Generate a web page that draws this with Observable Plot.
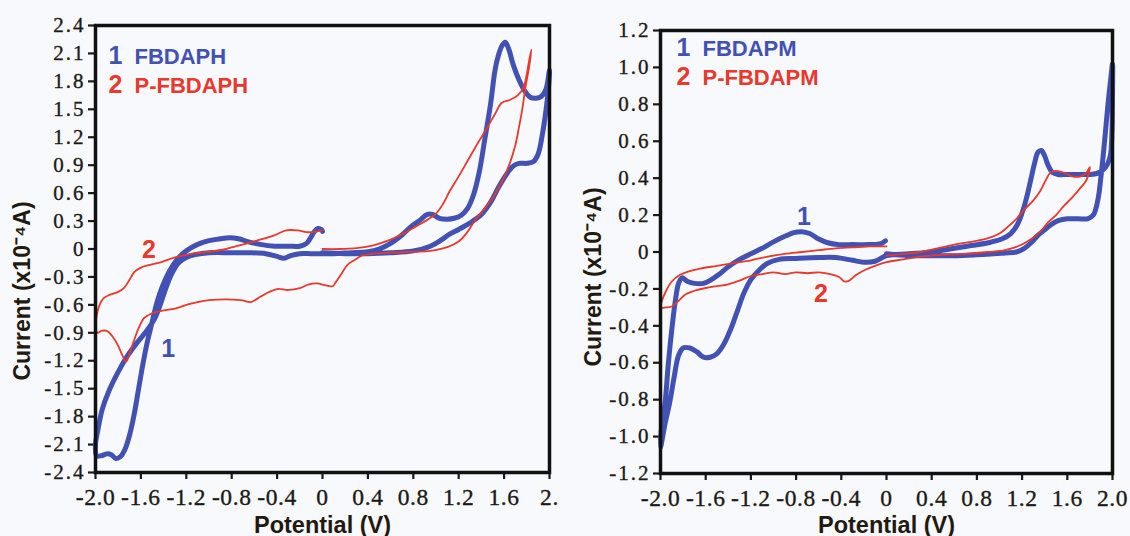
<!DOCTYPE html>
<html>
<head>
<meta charset="utf-8">
<script src="https://cdn.jsdelivr.net/npm/d3@7"></script>
<script src="https://cdn.jsdelivr.net/npm/@observablehq/plot@0.6"></script>
<style>
  html, body { margin: 0; padding: 0; background: #f8f9fd; }
  #wrap { display: flex; width: 1130px; height: 536px; }
  #wrap svg { display: block; }
  svg g[aria-label="y-axis tick label"] text {
    font-family: "Liberation Serif", "Times New Roman", serif;
    font-size: 21px; letter-spacing: 2px; fill: #1c1a16;
    stroke: #1c1a16; stroke-width: 0.35px;
  }
  svg g[aria-label="x-axis tick label"] text {
    font-family: "Liberation Serif", "Times New Roman", serif;
    font-size: 23.5px; letter-spacing: 0.6px; fill: #1c1a16;
    stroke: #1c1a16; stroke-width: 0.35px;
  }
  svg g[aria-label="legend name"] text { letter-spacing: 1.5px; }
  svg g[aria-label="axis title"] text { letter-spacing: 0.4px; }
</style>
</head>
<body>
<div id="wrap"></div>
<script>
// ---- Axis ticks and labels ----
const potentialTicks = [-2.0, -1.6, -1.2, -0.8, -0.4, 0, 0.4, 0.8, 1.2, 1.6, 2.0];
const potentialLabelsLeft = ["-2.0", "-1.6", "-1.2", "-0.8", "-0.4", "0", "0.4", "0.8", "1.2", "1.6", "2."];
const potentialLabelsRight = ["-2.0", "-1.6", "-1.2", "-0.8", "-0.4", "0", "0.4", "0.8", "1.2", "1.6", "2.0"];
const leftCurrentTicks = [2.4, 2.1, 1.8, 1.5, 1.2, 0.9, 0.6, 0.3, 0, -0.3, -0.6, -0.9, -1.2, -1.5, -1.8, -2.1, -2.4];
const leftCurrentLabels = ["2.4", "2.1", "1.8", "1.5", "1.2", "0.9", "0.6", "0.3", "0", "-0.3", "-0.6", "-0.9", "-1.2", "-1.5", "-1.8", "-2.1", "-2.4"];
const rightCurrentTicks = [1.2, 1.0, 0.8, 0.6, 0.4, 0.2, 0, -0.2, -0.4, -0.6, -0.8, -1.0, -1.2];
const rightCurrentLabels = ["1.2", "1.0", "0.8", "0.6", "0.4", "0.2", "0", "-0.2", "-0.4", "-0.6", "-0.8", "-1.0", "-1.2"];

// ---- Cyclic voltammograms: potential (V) and current (x10^-4 A) along the sweep ----
// FBDAPH
const fbdaphPotential = [
  0.0, 0.2, 0.4, 0.6, 0.8, 0.95, 1.05, 1.12, 1.2, 1.3, 1.4, 1.48, 1.55, 1.62, 1.68, 1.73, 1.8, 1.86, 1.9, 1.94, 1.97, 1.99, 2.0,
  1.97, 1.93, 1.88, 1.83, 1.78, 1.73, 1.68, 1.64, 1.61, 1.58, 1.55, 1.52, 1.48, 1.43, 1.38, 1.33, 1.28, 1.22, 1.16, 1.1, 1.03, 0.97, 0.92, 0.86, 0.78, 0.7, 0.6, 0.5, 0.4, 0.25, 0.1, 0.0,
  -0.1, -0.2, -0.28, -0.34, -0.4, -0.5, -0.65, -0.8, -1.0, -1.12, -1.2, -1.27, -1.33, -1.38, -1.43, -1.48, -1.55, -1.63, -1.72, -1.8, -1.88, -1.94, -1.98, -2.0,
  -1.99, -1.95, -1.9, -1.86, -1.82, -1.78, -1.74, -1.7, -1.66, -1.62, -1.58, -1.54, -1.5, -1.46, -1.41, -1.35, -1.28, -1.2, -1.1, -1.0, -0.9, -0.82, -0.74, -0.66, -0.55, -0.42, -0.3, -0.2, -0.14, -0.1, -0.07, -0.04, -0.01, 0.0
];
const fbdaphCurrent = [
  -0.04, -0.05, -0.05, -0.04, -0.02, 0.03, 0.1, 0.16, 0.21, 0.28, 0.37, 0.5, 0.66, 0.8, 0.89, 0.92, 0.92, 0.94, 1.02, 1.25, 1.5, 1.72, 1.92,
  1.72, 1.64, 1.62, 1.63, 1.7, 1.82, 1.98, 2.15, 2.22, 2.18, 2.08, 1.92, 1.55, 1.18, 0.82, 0.58, 0.44, 0.36, 0.33, 0.32, 0.33, 0.37, 0.37, 0.31, 0.24, 0.15, 0.06, 0.0, -0.03, -0.04, -0.05, -0.05,
  -0.05, -0.05, -0.07, -0.1, -0.08, -0.05, -0.04, -0.04, -0.04, -0.06, -0.09, -0.15, -0.27, -0.42, -0.6, -0.75, -0.88, -1.0, -1.15, -1.32, -1.52, -1.72, -1.95, -2.1,
  -2.22, -2.22, -2.2, -2.21, -2.25, -2.23, -2.15, -2.0, -1.78, -1.5, -1.22, -0.98, -0.78, -0.58, -0.4, -0.24, -0.11, -0.02, 0.05, 0.09, 0.11, 0.12, 0.11, 0.08, 0.05, 0.03, 0.03, 0.03, 0.06, 0.13, 0.19, 0.22, 0.21, 0.19
];

// P-FBDAPH
const pFbdaphPotential = [
  0.0, 0.15, 0.3, 0.45, 0.6, 0.72, 0.82, 0.92, 1.0, 1.06, 1.12, 1.2, 1.28, 1.36, 1.44, 1.52, 1.58, 1.65, 1.72, 1.77, 1.8, 1.82, 1.84,
  1.82, 1.79, 1.76, 1.73, 1.7, 1.65, 1.58, 1.5, 1.42, 1.34, 1.27, 1.2, 1.1, 0.95, 0.8, 0.6, 0.45, 0.35, 0.28, 0.22, 0.17, 0.12, 0.09, 0.03, -0.05, -0.12, -0.2, -0.3, -0.4, -0.5, -0.57, -0.63, -0.72, -0.85, -1.0, -1.1, -1.2, -1.3, -1.4, -1.5, -1.57, -1.62, -1.66, -1.7, -1.73, -1.76, -1.8, -1.85, -1.9, -1.95, -1.98, -2.0,
  -1.99, -1.97, -1.93, -1.87, -1.8, -1.75, -1.7, -1.66, -1.6, -1.52, -1.42, -1.3, -1.15, -1.0, -0.85, -0.7, -0.55, -0.42, -0.32, -0.22, -0.12, 0.0
];
const pFbdaphCurrent = [
  0.0, 0.0, 0.01, 0.04, 0.1, 0.17, 0.24, 0.31, 0.38, 0.48, 0.62, 0.78, 0.95, 1.12, 1.28, 1.45, 1.57, 1.6, 1.65, 1.73, 1.88, 2.02, 2.14,
  1.95, 1.75, 1.5, 1.3, 1.12, 0.92, 0.72, 0.55, 0.42, 0.3, 0.17, 0.08, 0.02, -0.02, -0.03, -0.04, -0.05, -0.07, -0.12, -0.17, -0.26, -0.35, -0.4, -0.39, -0.37, -0.38, -0.42, -0.44, -0.43, -0.48, -0.53, -0.57, -0.55, -0.54, -0.55, -0.57, -0.6, -0.64, -0.66, -0.69, -0.74, -0.85, -0.98, -1.12, -1.21, -1.15, -1.04, -0.94, -0.88, -0.88, -0.9, -0.85,
  -0.72, -0.62, -0.53, -0.49, -0.46, -0.42, -0.33, -0.25, -0.2, -0.17, -0.14, -0.09, -0.05, -0.03, 0.0, 0.05, 0.1, 0.15, 0.2, 0.2, 0.18, 0.2
];

// FBDAPM
const fbdapmPotential = [
  0.0, 0.2, 0.4, 0.6, 0.8, 0.95, 1.05, 1.15, 1.22, 1.28, 1.34, 1.4, 1.46, 1.52, 1.6, 1.7, 1.78, 1.83, 1.87, 1.9, 1.93, 1.96, 1.99, 2.0,
  2.0, 1.995, 1.98, 1.94, 1.88, 1.8, 1.7, 1.6, 1.52, 1.47, 1.43, 1.4, 1.37, 1.34, 1.31, 1.28, 1.25, 1.21, 1.16, 1.1, 1.02, 0.9, 0.75, 0.6, 0.4, 0.2, 0.0,
  -0.1, -0.2, -0.3, -0.45, -0.6, -0.8, -0.95, -1.05, -1.13, -1.2, -1.26, -1.32, -1.38, -1.44, -1.5, -1.56, -1.62, -1.68, -1.74, -1.8, -1.84, -1.88, -1.92, -1.96, -2.0,
  -1.99, -1.96, -1.93, -1.9, -1.87, -1.84, -1.81, -1.76, -1.7, -1.62, -1.55, -1.48, -1.4, -1.3, -1.2, -1.1, -1.0, -0.9, -0.82, -0.75, -0.68, -0.6, -0.52, -0.42, -0.3, -0.15, -0.05, -0.01
];
const fbdapmCurrent = [
  -0.01, -0.02, -0.02, -0.02, -0.015, -0.01, -0.005, 0.0, 0.02, 0.05, 0.09, 0.12, 0.15, 0.17, 0.18, 0.18, 0.18, 0.2, 0.28, 0.42, 0.6, 0.8, 0.97, 1.02,
  0.85, 0.65, 0.52, 0.46, 0.43, 0.42, 0.42, 0.42, 0.42, 0.43, 0.47, 0.52, 0.55, 0.54, 0.48, 0.4, 0.32, 0.23, 0.15, 0.1, 0.07, 0.05, 0.035, 0.02, 0.0, -0.01, -0.02,
  -0.05, -0.055, -0.045, -0.03, -0.03, -0.035, -0.04, -0.06, -0.1, -0.15, -0.22, -0.32, -0.42, -0.5, -0.55, -0.57, -0.57, -0.54, -0.52, -0.52, -0.56, -0.68, -0.82, -0.93, -1.06,
  -0.95, -0.82, -0.6, -0.42, -0.27, -0.17, -0.14, -0.16, -0.17, -0.17, -0.15, -0.12, -0.08, -0.04, -0.01, 0.02, 0.055, 0.085, 0.105, 0.11, 0.1, 0.07, 0.05, 0.04, 0.04, 0.04, 0.045, 0.06
];

// P-FBDAPM
const pFbdapmPotential = [
  0.0, 0.15, 0.3, 0.45, 0.6, 0.75, 0.9, 1.0, 1.08, 1.15, 1.22, 1.3, 1.36, 1.41, 1.45, 1.5, 1.57, 1.64, 1.72, 1.77, 1.8,
  1.77, 1.72, 1.65, 1.57, 1.5, 1.43, 1.36, 1.28, 1.18, 1.05, 0.9, 0.7, 0.5, 0.3, 0.15, 0.0, -0.1, -0.2, -0.27, -0.33, -0.37, -0.42, -0.5, -0.6, -0.7, -0.8, -0.9, -1.0, -1.1, -1.2, -1.3, -1.4, -1.5, -1.6, -1.7, -1.78, -1.85, -1.9, -1.95, -2.0,
  -1.99, -1.95, -1.9, -1.83, -1.75, -1.65, -1.5, -1.35, -1.2, -1.05, -0.9, -0.75, -0.6, -0.45, -0.3, -0.15, 0.0
];
const pFbdapmCurrent = [
  -0.02, -0.01, 0.0, 0.02, 0.04, 0.055, 0.075, 0.1, 0.14, 0.18, 0.23, 0.28, 0.33, 0.39, 0.43, 0.44, 0.43, 0.41, 0.41, 0.43, 0.46,
  0.39, 0.35, 0.3, 0.25, 0.2, 0.16, 0.11, 0.07, 0.035, 0.01, 0.0, -0.01, -0.015, -0.025, -0.04, -0.055, -0.075, -0.1, -0.125, -0.155, -0.16, -0.135, -0.12, -0.11, -0.115, -0.11, -0.12, -0.11, -0.12, -0.13, -0.155, -0.175, -0.185, -0.195, -0.21, -0.23, -0.27, -0.295, -0.3, -0.3,
  -0.27, -0.21, -0.16, -0.125, -0.105, -0.09, -0.075, -0.06, -0.045, -0.025, -0.01, 0.0, 0.01, 0.02, 0.025, 0.03, 0.03
];

// ---- Series names and curve tags ----
const leftNames = ["FBDAPH", "P-FBDAPH"];
const rightNames = ["FBDAPM", "P-FBDAPM"];
const leftTagText = ["2", "1"];
const leftTagPotential = [-1.53, -1.36];
const leftTagCurrent = [-0.01, -1.07];
const rightTagText = ["1", "2"];
const rightTagPotential = [-0.73, -0.58];
const rightTagCurrent = [0.19, -0.23];

const BLUE = "#4151b4";
const RED = "#e8392c";
const INK = "#1c1a16";
const TITLE = "#221a0f";
const SANS = "Liberation Sans, Arial, sans-serif";
const SERIF = "Liberation Serif, Times New Roman, serif";

const toRows = (potential, current) => potential.map((p, k) => ({potential: p, current: current[k]}));
const toTags = (text, potential, current) =>
  text.map((t, k) => ({text: t, potential: potential[k], current: current[k], color: t === "1" ? BLUE : RED}));

function panel(o) {
  const xLabel = new Map(potentialTicks.map((t, k) => [t, o.xLabels[k]]));
  const yLabel = new Map(o.yTicks.map((t, k) => [t, o.yLabels[k]]));
  const legendText = (text, fill, dx, dy, size, ariaLabel) =>
    Plot.text([text], {
      text: d => d, frameAnchor: "top-left", textAnchor: "start", lineAnchor: "bottom",
      dx, dy, fill, fontSize: size, fontWeight: "bold", fontFamily: SANS, ariaLabel
    });
  return Plot.plot({
    width: o.width,
    height: 536,
    marginLeft: o.marginLeft,
    marginRight: o.marginRight,
    marginTop: o.marginTop,
    marginBottom: o.marginBottom,
    x: {domain: [-2, 2]},
    y: {domain: o.yDomain},
    style: {background: "transparent", color: INK, fontFamily: SERIF, overflow: "visible"},
    marks: [
      Plot.axisX({
        ticks: potentialTicks, tickFormat: d => xLabel.get(d), label: null,
        tickSize: 7, tickPadding: 9, strokeWidth: 2.2, stroke: INK,
        fontSize: 23.5, fontFamily: SERIF, fill: INK
      }),
      Plot.axisY({
        ticks: o.yTicks, tickFormat: d => yLabel.get(d), label: null,
        tickSize: 7, tickPadding: 3, strokeWidth: 2.2, stroke: INK,
        fontSize: 21, fontFamily: SERIF, fill: INK
      }),
      Plot.line(o.blue, {x: "potential", y: "current", stroke: BLUE, strokeWidth: 5, curve: "catmull-rom"}),
      Plot.line(o.red, {x: "potential", y: "current", stroke: RED, strokeWidth: 1.8, curve: "catmull-rom"}),
      Plot.frame({stroke: "#111", strokeWidth: 3.5}),
      Plot.text(o.tags, {
        x: "potential", y: "current", text: "text", fill: "color",
        fontSize: 25, fontWeight: "bold", fontFamily: SANS
      }),
      legendText("1", BLUE, o.legend.dxNum, o.legend.dy1, 25),
      legendText(o.names[0], BLUE, o.legend.dxName, o.legend.dy1, 22, "legend name"),
      legendText("2", RED, o.legend.dxNum, o.legend.dy2, 25),
      legendText(o.names[1], RED, o.legend.dxName, o.legend.dy2, 22, "legend name"),
      Plot.text(["Current (x10⁻⁴A)"], {
        text: d => d, frameAnchor: "left", textAnchor: "middle", lineAnchor: "middle",
        rotate: -90, dx: o.yTitle.dx, dy: o.yTitle.dy,
        fontSize: 23, fontWeight: "bold", fontFamily: SANS, fill: TITLE, ariaLabel: "axis title"
      }),
      Plot.text(["Potential (V)"], {
        text: d => d, frameAnchor: "bottom", textAnchor: "middle", lineAnchor: "middle",
        dy: o.xTitleDy,
        fontSize: 23.5, fontWeight: "bold", fontFamily: SANS, fill: TITLE, ariaLabel: "axis title"
      })
    ]
  });
}

const wrap = document.getElementById("wrap");

wrap.appendChild(panel({
  width: 565, marginLeft: 95, marginRight: 16, marginTop: 25, marginBottom: 64,
  yDomain: [-2.4, 2.4], yTicks: leftCurrentTicks, yLabels: leftCurrentLabels, xLabels: potentialLabelsLeft,
  blue: toRows(fbdaphPotential, fbdaphCurrent),
  red: toRows(pFbdaphPotential, pFbdaphCurrent),
  names: leftNames,
  tags: toTags(leftTagText, leftTagPotential, leftTagCurrent),
  legend: {dxNum: 13, dxName: 39, dy1: 38, dy2: 67},
  yTitle: {dx: -73, dy: 42},
  xTitleDy: 53
}));

wrap.appendChild(panel({
  width: 565, marginLeft: 95, marginRight: 18, marginTop: 30, marginBottom: 63,
  yDomain: [-1.2, 1.2], yTicks: rightCurrentTicks, yLabels: rightCurrentLabels, xLabels: potentialLabelsRight,
  blue: toRows(fbdapmPotential, fbdapmCurrent),
  red: toRows(pFbdapmPotential, pFbdapmCurrent),
  names: rightNames,
  tags: toTags(rightTagText, rightTagPotential, rightTagCurrent),
  legend: {dxNum: 16, dxName: 42, dy1: 25, dy2: 54},
  yTitle: {dx: -67, dy: 25},
  xTitleDy: 52
}));
</script>
</body>
</html>
